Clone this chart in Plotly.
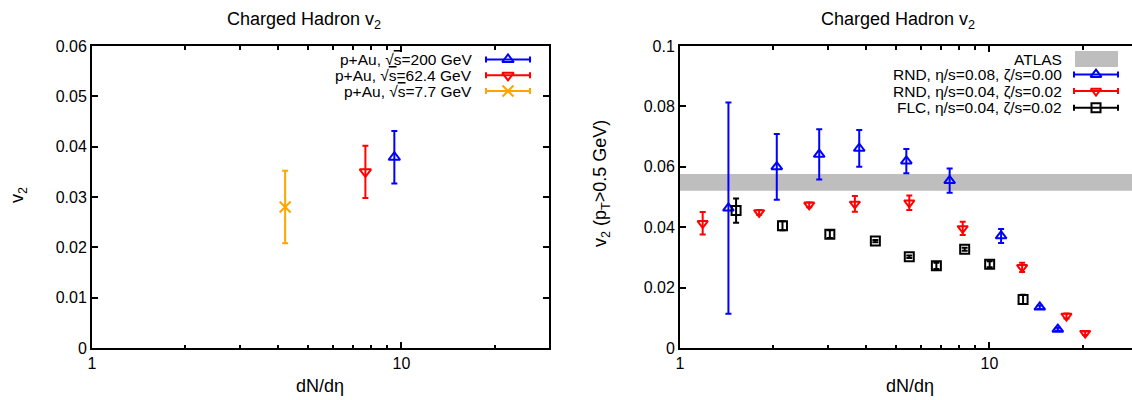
import math
import plotly.graph_objects as go

# ---------------- data ----------------
# left panel: p+Au at three energies
pau200_x = [9.49]
pau200_v = [0.0379]
pau200_e = [0.0052]
pau62_x = [7.65]
pau62_v = [0.0350]
pau62_e = [0.0052]
pau7_x = [4.21]
pau7_v = [0.0280]
pau7_e = [0.0072]

# right panel
rnd008_x = [1.434, 2.055, 2.818, 3.796, 5.39, 7.44, 10.91, 14.55, 16.64]
rnd008_v = [0.0463, 0.0600, 0.0641, 0.0661, 0.0619, 0.0554, 0.0371, 0.0135, 0.0062]
rnd008_e = [0.0350, 0.0109, 0.0083, 0.0061, 0.0040, 0.0040, 0.0023, 0.0006, 0.0005]

rnd004_x = [1.184, 1.802, 2.616, 3.675, 5.51, 8.20, 12.76, 17.75, 20.4]
rnd004_v = [0.0413, 0.0449, 0.0474, 0.0477, 0.0481, 0.0396, 0.0267, 0.0106, 0.0049]
rnd004_e = [0.0037, 0.0008, 0.0008, 0.0026, 0.0024, 0.0022, 0.0015, 0.0008, 0.0006]

flc_x = [1.518, 2.144, 3.05, 4.28, 5.51, 6.74, 8.32, 10.02, 12.85]
flc_v = [0.0455, 0.0405, 0.0377, 0.0354, 0.0302, 0.0272, 0.0327, 0.0277, 0.0161]
flc_e = [0.0040, 0.0015, 0.0013, 0.0004, 0.0004, 0.0010, 0.0005, 0.0010, 0.0015]

atlas_lo = 0.0521
atlas_hi = 0.0576

left_yticks = [0, 0.01, 0.02, 0.03, 0.04, 0.05, 0.06]
left_yticktext = ["0", "0.01", "0.02", "0.03", "0.04", "0.05", "0.06"]
right_yticks = [0, 0.02, 0.04, 0.06, 0.08, 0.1]
right_yticktext = ["0", "0.02", "0.04", "0.06", "0.08", "0.1"]
x_major = [1, 10]
x_major_text = ["1", "10"]
x_minor = [2, 3, 4, 5, 6, 7, 8, 9, 20]

BLUE = "#0000FF"
RED = "#FF0000"
ORANGE = "#FFA500"
BLACK = "#000000"
GRAY = "#BEBEBE"
FONT = "Liberation Sans, Arial, sans-serif"

W, H = 1132, 400


def px(x):
    return x / W


def py(y):
    return 1 - y / H


fig = go.Figure()


def series(x, v, e, color, symbol, size, xa, ya):
    fig.add_trace(go.Scatter(
        x=x, y=v, mode="markers", xaxis=xa, yaxis=ya, showlegend=False,
        marker=dict(symbol=symbol, size=size, color=color,
                    line=dict(color=color, width=2)),
        error_y=dict(type="data", array=e, visible=True, color=color,
                     thickness=2, width=3),
        hoverinfo="x+y",
    ))


series(pau7_x, pau7_v, pau7_e, ORANGE, "x-thin-open", 11, "x", "y")
series(pau62_x, pau62_v, pau62_e, RED, "triangle-down-open", 10, "x", "y")
series(pau200_x, pau200_v, pau200_e, BLUE, "triangle-up-open", 10, "x", "y")

series(rnd008_x, rnd008_v, rnd008_e, BLUE, "triangle-up-open", 9.5, "x2", "y2")
series(rnd004_x, rnd004_v, rnd004_e, RED, "triangle-down-open", 9, "x2", "y2")
series(flc_x, flc_v, flc_e, BLACK, "square-open", 9, "x2", "y2")

# empty traces registering the minor-tick overlay axes
fig.add_trace(go.Scatter(x=[], y=[], xaxis="x4", yaxis="y", showlegend=False, hoverinfo="skip"))
fig.add_trace(go.Scatter(x=[], y=[], xaxis="x5", yaxis="y2", showlegend=False, hoverinfo="skip"))

# ATLAS band
fig.add_shape(type="rect", xref="x2 domain", yref="y2", x0=0, x1=1,
              y0=atlas_lo, y1=atlas_hi, fillcolor=GRAY, line_width=0, layer="below")

# ---------------- custom legends (pixel-space overlay axis) ----------------
def legend_sample(cx, cy, color, symbol, size, half=22):
    fig.add_trace(go.Scatter(
        x=[cx], y=[cy], mode="markers", xaxis="x3", yaxis="y3", showlegend=False,
        marker=dict(symbol=symbol, size=size, color=color,
                    line=dict(color=color, width=2)),
        error_x=dict(type="constant", value=half, visible=True, color=color,
                     thickness=2, width=3),
        hoverinfo="skip",
    ))


left_rows = [
    ("p+Au, √<span style='text-decoration:overline'>s</span>=200 GeV", BLUE, "triangle-up-open", 10, 59.5),
    ("p+Au, √<span style='text-decoration:overline'>s</span>=62.4 GeV", RED, "triangle-down-open", 10, 75.3),
    ("p+Au, √<span style='text-decoration:overline'>s</span>=7.7 GeV", ORANGE, "x-thin-open", 11, 91),
]
for txt, col, sym, sz, yy in left_rows:
    legend_sample(508, yy, col, sym, sz)
    fig.add_annotation(text=txt, xref="paper", yref="paper", x=px(474), y=py(yy),
                       xanchor="right", yanchor="middle", showarrow=False,
                       font=dict(size=15.5, color=BLACK, family=FONT))

right_rows = [
    ("RND, η/s=0.08, ζ/s=0.00", BLUE, "triangle-up-open", 9.5, 74.5),
    ("RND, η/s=0.04, ζ/s=0.02", RED, "triangle-down-open", 9, 91),
    ("FLC, η/s=0.04, ζ/s=0.02", BLACK, "square-open", 9, 107.7),
]
fig.add_shape(type="rect", xref="paper", yref="paper", x0=px(1075), x1=px(1118),
              y0=py(67), y1=py(51), fillcolor=GRAY, line_width=0)
fig.add_annotation(text="ATLAS", xref="paper", yref="paper", x=px(1064), y=py(59.3),
                   xanchor="right", yanchor="middle", showarrow=False,
                   font=dict(size=15.5, color=BLACK, family=FONT))
for txt, col, sym, sz, yy in right_rows:
    legend_sample(1096, yy, col, sym, sz)
    fig.add_annotation(text=txt, xref="paper", yref="paper", x=px(1064), y=py(yy),
                       xanchor="right", yanchor="middle", showarrow=False,
                       font=dict(size=15.5, color=BLACK, family=FONT))

# ---------------- titles / labels ----------------
def label(text, x, y, size, angle=0):
    fig.add_annotation(text=text, xref="paper", yref="paper", x=px(x), y=py(y),
                       xanchor="center", yanchor="middle", showarrow=False,
                       textangle=angle, font=dict(size=size, color=BLACK, family=FONT))


label("Charged Hadron v<sub>2</sub>", 304, 20, 18)
label("Charged Hadron v<sub>2</sub>", 898, 20, 18)
label("dN/dη", 320, 386, 18)
label("dN/dη", 910, 386, 18)
label("v<sub>2</sub>", 18, 195, 18, -90)
label("v<sub>2</sub> (p<sub>T</sub>>0.5 GeV)", 601, 184, 18, -90)

# ---------------- axes ----------------
tickfont = dict(size=16, color=BLACK, family=FONT)
ydom = [py(348), py(46)]

common_x = dict(type="log", tickmode="array", tickvals=x_major, ticktext=x_major_text,
                ticks="inside", ticklen=6, tickwidth=1.5, tickcolor=BLACK,
                showline=True, linewidth=2, linecolor=BLACK, showgrid=False,
                zeroline=False, tickfont=tickfont, automargin=False)
minor_x = dict(type="log", tickmode="array", tickvals=x_minor, showticklabels=False,
               ticks="inside", ticklen=3.5, tickwidth=1.5, tickcolor=BLACK,
               showline=True, linewidth=2, linecolor=BLACK, showgrid=False,
               zeroline=False, automargin=False, mirror="ticks", fixedrange=True)
common_y = dict(ticks="inside", ticklen=6, tickwidth=1.5, tickcolor=BLACK,
                showline=True, linewidth=2, linecolor=BLACK, showgrid=False,
                zeroline=False, tickfont=tickfont, tickmode="array", automargin=False)

left_w = 549 - 92
left_top = math.log10(30)
decade = left_w / left_top
right_top = (W - 680) / decade

fig.update_layout(
    template="none",
    width=W, height=H, autosize=False,
    margin=dict(l=0, r=0, t=0, b=0, pad=0, autoexpand=False),
    paper_bgcolor="white", plot_bgcolor="rgba(0,0,0,0)",
    showlegend=False,
    font=dict(family=FONT, color=BLACK),
    xaxis=dict(domain=[px(92), px(549)], range=[0, left_top], mirror="ticks",
               anchor="y", **common_x),
    yaxis=dict(domain=ydom, range=[0, 0.06], tickvals=left_yticks,
               ticktext=left_yticktext, mirror="ticks", anchor="x", **common_y),
    xaxis2=dict(domain=[px(680), 1.0], range=[0, right_top], mirror="ticks",
                anchor="y2", **common_x),
    yaxis2=dict(domain=ydom, range=[0, 0.1], tickvals=right_yticks,
                ticktext=right_yticktext, mirror=False, anchor="x2", **common_y),
    xaxis4=dict(overlaying="x", anchor="y", range=[0, left_top], side="bottom", **minor_x),
    xaxis5=dict(overlaying="x2", anchor="y2", range=[0, right_top], side="bottom", **minor_x),
    xaxis3=dict(domain=[0, 1], range=[0, W], visible=False, anchor="y3",
                fixedrange=True, automargin=False),
    yaxis3=dict(domain=[0, 1], range=[H, 0], visible=False, anchor="x3",
                fixedrange=True, automargin=False),
)

fig.write_html("out.html", config={"displayModeBar": False},
               post_script="document.body.style.margin='0';")
